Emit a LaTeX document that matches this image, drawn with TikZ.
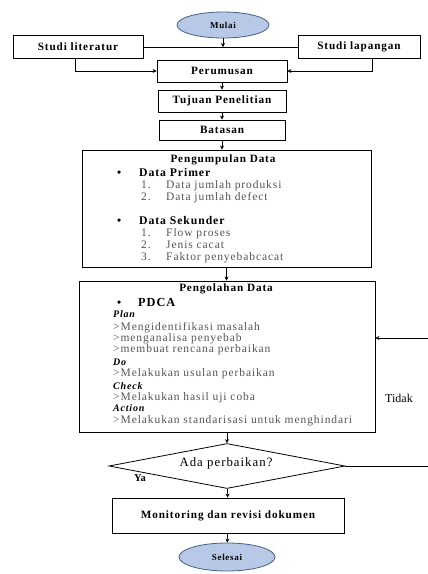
\documentclass[tikz,border=0pt]{standalone}
\usepackage{fontspec}
\setmainfont{Liberation Serif}
\newfontfamily\widefont[LetterSpace=8]{Liberation Serif}
\usetikzlibrary{shapes.geometric,arrows.meta,calc}
\definecolor{termfill}{RGB}{183,201,230}
\definecolor{termline}{RGB}{70,95,135}
\definecolor{itemgray}{RGB}{85,85,85}

\begin{document}
\begin{tikzpicture}[x=1pt,y=-1pt,
  box/.style={draw,line width=0.9pt,inner sep=0pt,font=\widefont\fontsize{11.2}{13}\selectfont\bfseries},
  term/.style={ellipse,draw=termline,fill=termfill,line width=0.8pt,inner sep=0pt,font=\widefont\fontsize{9}{10}\selectfont\bfseries},
  link/.style={line width=0.6pt},
  arr/.style={link,-{Stealth[length=4pt,width=4pt]}},
  head/.style={inner sep=0pt,font=\widefont\fontsize{11.2}{13}\selectfont\bfseries},
  bul/.style={anchor=base west,inner sep=0pt,font=\widefont\fontsize{11.7}{13}\selectfont\bfseries},
  item/.style={anchor=base west,inner sep=0pt,text=itemgray,font=\widefont\fontsize{11.5}{13}\selectfont},
  phase/.style={anchor=base west,inner sep=0pt,font=\widefont\fontsize{10}{11}\selectfont\bfseries\itshape}]
\useasboundingbox (0,0) rectangle (428,574);

% start and first steps
\node[term,minimum width=92pt,minimum height=26pt] (mulai) at (223,25) {Mulai};
\node[box,minimum width=130pt,minimum height=23pt] (lit) at (78,47) {Studi literatur};
\node[box,minimum width=122pt,minimum height=23pt] (lap) at (359,47) {Studi lapangan};
\node[box,minimum width=130pt,minimum height=22pt] (per) at (222,71) {Perumusan};
\node[box,minimum width=128pt,minimum height=22pt] (tuj) at (222,101) {Tujuan Penelitian};
\node[box,minimum width=126pt,minimum height=20pt] (bat) at (222,130) {Batasan};

% data collection
\node[box,minimum width=289pt,minimum height=117pt] (kump) at (226.5,208.5) {};
\node[head] (kumpt) at (223,160) {Pengumpulan Data};
\node[bul] (b1) at (117,176) {\textbullet};
\node[bul] (prim) at (139,176) {Data Primer};
\node[item] (p1n) at (141,188) {1.};
\node[item] (p1) at (166,188) {Data jumlah produksi};
\node[item] (p2n) at (141,200) {2.};
\node[item] (p2) at (166,200) {Data jumlah defect};
\node[bul] (b2) at (117,224) {\textbullet};
\node[bul] (sek) at (139,224) {Data Sekunder};
\node[item] (s1n) at (141,236) {1.};
\node[item] (s1) at (166,236) {Flow proses};
\node[item] (s2n) at (141,248) {2.};
\node[item] (s2) at (166,248) {Jenis cacat};
\node[item] (s3n) at (141,260) {3.};
\node[item] (s3) at (166,260) {Faktor penyebabcacat};

% data processing
\node[box,minimum width=296pt,minimum height=151pt] (olah) at (227,356.5) {};
\node[head] (olaht) at (226,289) {Pengolahan Data};
\node[bul] (b3) at (117,306) {\textbullet};
\node[bul,font=\widefont\fontsize{12.3}{13}\selectfont\bfseries] (pdca) at (138,306) {PDCA};
\node[phase] (plan) at (113,317) {Plan};
\node[item] (o1) at (113,330) {>Mengidentifikasi masalah};
\node[item] (o2) at (113,341) {>menganalisa penyebab};
\node[item] (o3) at (113,352) {>membuat rencana perbaikan};
\node[phase] (do) at (113,365) {Do};
\node[item] (o4) at (113,376) {>Melakukan usulan perbaikan};
\node[phase] (check) at (113,389) {Check};
\node[item] (o5) at (113,400) {>Melakukan hasil uji coba};
\node[phase] (action) at (113,411) {Action};
\node[item] (o6) at (113,423) {>Melakukan standarisasi untuk menghindari};

% decision and end
\node[diamond,draw,line width=0.8pt,inner sep=0pt,minimum width=236pt,minimum height=45pt] (ada) at (227,466) {};
\node[inner sep=0pt,font=\widefont\fontsize{12.8}{14}\selectfont] (adat) at (226,463) {Ada perbaikan?};
\node[box,minimum width=232pt,minimum height=35pt] (mon) at (228,515.5) {Monitoring dan revisi dokumen};
\node[term,minimum width=96pt,minimum height=28pt] (selesai) at (227,557) {Selesai};
\node[inner sep=0pt,font=\fontsize{10.5}{12}\selectfont\bfseries] (ya) at (140,478) {Ya};
\node[inner sep=0pt,font=\fontsize{12}{14}\selectfont] (tidak) at (399,398) {Tidak};
\coordinate (loopr) at (431,466);

\draw[link] (lit.east) -- (lap.west);
\draw[arr] (mulai) -- (mulai |- lit.east);
\draw[arr] ([xshift=-3pt]lit.south) |- (per.west);
\draw[arr] ([xshift=13pt]lap.south) |- (per.east);
\draw[arr] (per) -- (tuj);
\draw[arr] (tuj) -- (bat);
\draw[arr] (bat.south) -- (bat.south |- kump.north);
\draw[arr] (kump.south) -- (kump.south |- olah.north);
\draw[arr] (olah) -- (ada);
\draw[arr] (ada) -- (mon);
\draw[arr] (mon) -- (selesai);
\draw[arr] (ada.east) -- (loopr) |- ([yshift=18.5pt]olah.east);
\end{tikzpicture}
\end{document}
